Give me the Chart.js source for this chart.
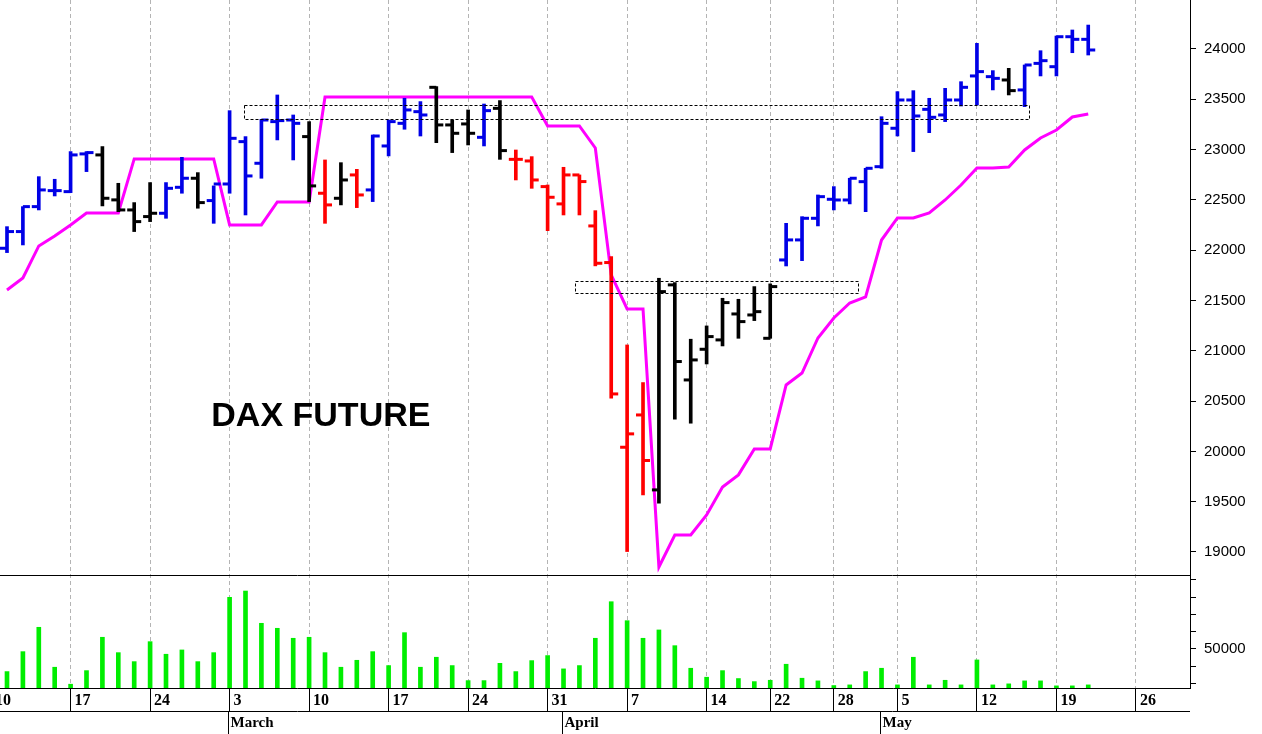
<!DOCTYPE html>
<html><head><meta charset="utf-8">
<script src="https://cdn.jsdelivr.net/npm/chart.js@4.4.1/dist/chart.umd.min.js"></script>
<style>html,body{margin:0;padding:0;background:#fff}#wrap{width:1262px;height:734px}</style>
</head><body><div id="wrap"><canvas id="c" width="1262" height="734"></canvas></div>
<script>
const dates = ["02-10","02-11","02-12","02-13","02-14","02-17","02-18","02-19","02-20","02-21","02-24","02-25","02-26","02-27","02-28",
"03-03","03-04","03-05","03-06","03-07","03-10","03-11","03-12","03-13","03-14","03-17","03-18","03-19","03-20","03-21",
"03-24","03-25","03-26","03-27","03-28","03-31","04-01","04-02","04-03","04-04","04-07","04-08","04-09","04-10","04-11",
"04-14","04-15","04-16","04-17","04-22","04-23","04-24","04-25","04-28","04-29","04-30","05-02","05-05","05-06","05-07","05-08","05-09",
"05-12","05-13","05-14","05-15","05-16","05-19","05-20","05-21","05-22","05-23","05-26","05-27","05-28","05-29"];
const tickDates = ["02-10","02-17","02-24","03-03","03-10","03-17","03-24","03-31","04-07","04-14","04-22","04-28","05-05","05-12","05-19","05-26"];
const tickLabels = ["10","17","24","3","10","17","24","31","7","14","22","28","5","12","19","26"];
const monthStarts = ["03-03","04-01","05-02"];
const monthLabels = ["March","April","May"];
const opens  = [null,22019,22185,22433,22592,22582,22957,22947,22500,22400,22334,22367,22625,22715,22493,22658,23079,22864,23278,23294,23129,22566,22516,22748,22599,23036,23261,23377,23619,23245,23255,23122,23410,22903,22887,22632,22460,22748,22241,21877,20041,20362,19617,21655,20710,21015,21108,21366,21356,21124,21903,22102,22317,22506,22499,22681,22830,23212,23493,23400,23344,23493,23732,23725,23692,23593,23857,23824,24122,24096];
const highs  = [null,22234,22433,22731,22705,22980,22980,23030,22665,22473,22672,22672,22923,22771,22639,23387,23129,23301,23543,23344,23278,22897,22870,22804,23145,23294,23510,23477,23626,23294,23394,23453,23487,22996,22930,22648,22824,22748,22393,21936,21058,20684,21721,21678,21115,21247,21522,21512,21638,21665,22267,22333,22549,22632,22715,22814,23327,23576,23586,23510,23609,23675,24056,23785,23808,23841,23983,24129,24189,24238];
const lows   = [null,21976,22052,22400,22539,22572,22781,22440,22383,22185,22284,22317,22566,22417,22267,22566,22350,22715,23096,22897,22483,22267,22450,22423,22483,22937,23202,23135,23069,22970,23046,23036,22903,22698,22615,22194,22350,22350,21844,20528,19004,19567,19485,20319,20280,20869,21048,21124,21300,21124,21843,21896,22241,22400,22460,22383,22814,23135,22980,23168,23278,23433,23443,23593,23543,23427,23732,23732,23963,23940];
const closes = [null,22185,22433,22599,22592,22947,22970,22516,22400,22284,22367,22615,22715,22473,22658,23112,22738,23294,23288,23261,22639,22450,22698,22549,23135,23278,23394,23344,23245,23162,23162,23387,22990,22903,22698,22526,22748,22682,21870,20571,20174,19909,21588,20893,20909,21141,21479,21290,21389,21638,22102,22317,22532,22499,22715,22814,23261,23493,23334,23321,23493,23619,23775,23708,23586,23841,23884,24122,24096,23990];
const barColors = "xBBBBBBKKKKBBKBBBBBBKRKRBBBBKKKBKRRRRRRRRRKKKKKKKKBBBBBBBBBBBBBBKBBBBB";
const stopLine = [null,21604,21724,22042,22141,22251,22370,22370,22370,22907,22907,22907,22907,22907,22907,22251,22251,22251,22479,22479,22479,
23523,23523,23523,23523,23523,23523,23523,23523,23523,23523,23523,23523,23523,23523,23235,23235,23235,23016,21754,21416,21416,18851,19169,19169,
19368,19646,19766,20024,20024,20660,20779,21127,21326,21475,21535,22101,22320,22320,22370,22499,22648,22817,22817,22827,22996,23115,23195,23324,23354];
const volumes = [null,36900,48440,62540,39420,29600,37460,56760,47860,42660,54220,46940,49420,42660,47860,79880,83520,64850,61960,56180,56760,47860,39420,43440,48440,40380,
59430,39420,45200,40380,31680,31680,41690,36900,43250,46170,38460,40380,56180,77340,66360,56180,61000,51900,38830,33640,37460,32870,31100,31870,41150,
33060,31520,28820,29200,36900,38830,29200,45200,29200,31870,29200,43640,29200,29800,31520,31520,28630,28630,29200];
const boxes = [{from:15.9,to:65.3,lo:23304,hi:23443},{from:36.7,to:54.5,lo:21575,hi:21694}];
const titleText = "DAX FUTURE";

const colMap = {B:"#0000e6",K:"#000000",R:"#ff0000"};
const cols = [];
for (let i=0;i<opens.length;i++) cols.push(colMap[barColors[i]]||"#000");
const rangeData = [], volData = [], lineData = [];
for (let i=0;i<opens.length;i++){
  if (highs[i]!=null) rangeData.push({x:i,y:[lows[i],highs[i]]});
  if (volumes[i]!=null) volData.push({x:i,y:volumes[i]});
  if (stopLine[i]!=null) lineData.push({x:i,y:stopLine[i]});
}
const rangeCols = cols.filter((c,i)=>highs[i]!=null);

const ocPlugin = {
  id:'oc',
  afterDatasetsDraw(chart){
    const ctx=chart.ctx, xs=chart.scales.x, ys=chart.scales.y;
    ctx.save();
    ctx.lineWidth=3;
    for (let i=0;i<opens.length;i++){
      if (opens[i]==null) continue;
      const x=xs.getPixelForValue(i);
      ctx.strokeStyle=cols[i];
      const yo=ys.getPixelForValue(opens[i]), yc=ys.getPixelForValue(closes[i]);
      ctx.beginPath();ctx.moveTo(x-7,yo);ctx.lineTo(x,yo);ctx.stroke();
      ctx.beginPath();ctx.moveTo(x,yc);ctx.lineTo(x+7,yc);ctx.stroke();
    }
    ctx.lineWidth=1;ctx.strokeStyle="#000";ctx.setLineDash([3,2]);
    boxes.forEach(b=>{
      const x1=xs.getPixelForValue(b.from),x2=xs.getPixelForValue(b.to);
      const y1=ys.getPixelForValue(b.hi),y2=ys.getPixelForValue(b.lo);
      ctx.strokeRect(Math.round(x1)+0.5,Math.round(y1)+0.5,Math.round(x2-x1),Math.round(y2-y1));
    });
    ctx.setLineDash([]);
    const ca=chart.chartArea;
    const sy=Math.round(ys.bottom)+0.5;
    ctx.beginPath();ctx.moveTo(ca.left,sy);ctx.lineTo(ca.right,sy);ctx.stroke();
    ctx.fillStyle="#000";ctx.font="bold 34px 'Liberation Sans', Arial, sans-serif";
    ctx.textBaseline="middle";ctx.textAlign="left";
    ctx.fillText(titleText,xs.getPixelForValue(13.85),ys.getPixelForValue(20350));
    const by=xs.bottom, ly=Math.round(xs.top+23)+0.5;
    ctx.beginPath();ctx.moveTo(ca.left,ly);ctx.lineTo(ca.right,ly);ctx.stroke();
    ctx.font="bold 15px 'Liberation Serif', 'Times New Roman', serif";
    monthStarts.forEach((m,k)=>{
      const idx=dates.indexOf(m);
      const x=Math.round(xs.getPixelForValue(idx-0.1))+0.5;
      ctx.beginPath();ctx.moveTo(x,ly);ctx.lineTo(x,by);ctx.stroke();
      ctx.fillText(monthLabels[k],x+2,ly+12);
    });
    ctx.restore();
  }
};

new Chart(document.getElementById('c'),{
  data:{datasets:[
    {type:'line',data:lineData,yAxisID:'y',borderColor:'#ff00ff',borderWidth:3,pointRadius:0,tension:0,order:3},
    {type:'bar',data:rangeData,yAxisID:'y',backgroundColor:rangeCols,barThickness:3,grouped:false,order:1},
    {type:'bar',data:volData,yAxisID:'v',backgroundColor:'#00ee00',barThickness:4,grouped:false,order:2,base:27400}
  ]},
  plugins:[ocPlugin],
  options:{
    responsive:false,animation:false,
    layout:{padding:{top:0,left:0,right:0,bottom:0}},
    plugins:{legend:{display:false},tooltip:{enabled:false}},
    scales:{
      x:{type:'linear',min:0.56,max:75.4,offset:false,
        afterFit(s){s.height=46;},
        afterBuildTicks(s){s.ticks=tickDates.map(d=>({value:dates.indexOf(d)}));},
        ticks:{autoSkip:false,maxRotation:0,align:'start',labelOffset:4,padding:-20,color:'#000',
          font:{family:"'Liberation Serif', 'Times New Roman', serif",size:16,weight:'bold'},
          callback(v){const k=tickDates.indexOf(dates[v]);return k>=0?tickLabels[k]:'';}},
        grid:{offset:false,color:'#b4b4b4',tickLength:23,tickColor:'#000',tickBorderDash:[0,0]},
        border:{display:true,color:'#000',width:1,dash:[4,3]}
      },
      y:{position:'right',stack:'s',stackWeight:575,min:18771,max:24487,
        afterFit(s){s.width=72;s.paddingTop=0;s.paddingBottom=0;},
        afterBuildTicks(s){const t=[];for(const v of [19000,19500,20000,20500,21000,21500,22000,22500,23000,23500,24000])t.push({value:v});s.ticks=t;},
        ticks:{autoSkip:false,color:'#000',padding:8,font:{family:"'Liberation Sans', Arial, sans-serif",size:15},callback(v){return String(v);}},
        grid:{display:true,drawOnChartArea:false,tickLength:6,tickColor:'#000'},
        border:{display:true,color:'#000'}
      },
      v:{position:'right',stack:'s',stackWeight:113,min:27400,max:92800,
        afterFit(s){s.width=72;s.paddingTop=0;s.paddingBottom=0;},
        afterBuildTicks(s){const t=[];for(const v of [30000,40000,50000,60000,70000,80000,90000])t.push({value:v});s.ticks=t;},
        ticks:{autoSkip:false,color:'#000',padding:8,font:{family:"'Liberation Sans', Arial, sans-serif",size:15},callback(v){return Math.round(v)===50000?'50000':'';}},
        grid:{display:true,drawOnChartArea:false,tickLength:6,tickColor:'#000'},
        border:{display:true,color:'#000'}
      }
    }
  }
});
</script></body></html>
